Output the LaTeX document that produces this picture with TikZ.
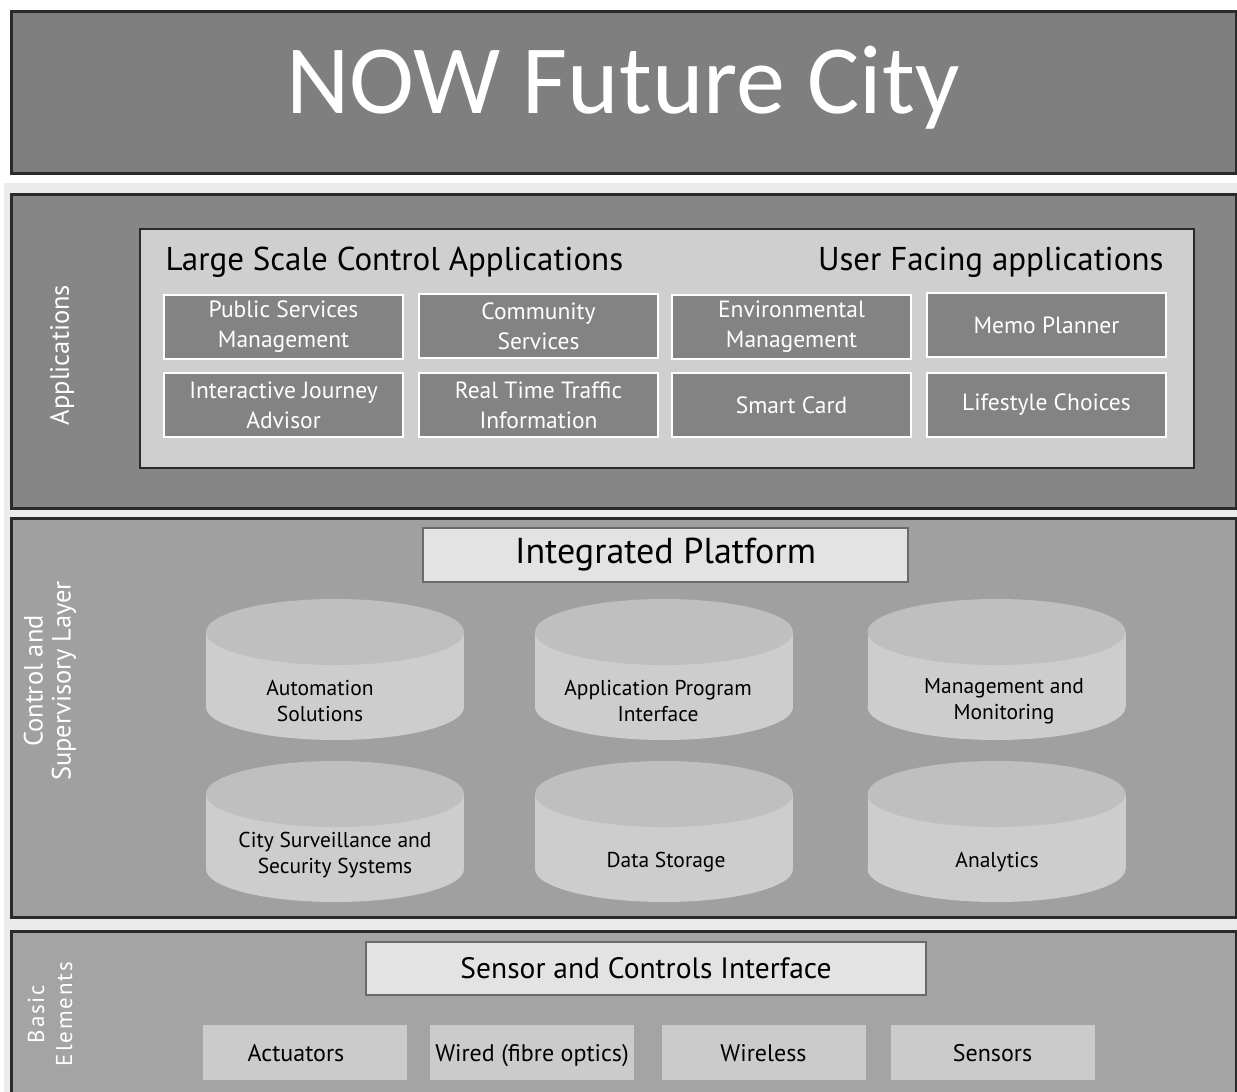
\documentclass[tikz,border=0pt]{standalone}
\usepackage{fontspec}
\setmainfont{PT Sans}
\newfontfamily\titlefont{Carlito}
\newfontfamily\spacedfont[LetterSpace=8]{PT Sans}
\definecolor{titlefill}{HTML}{7F7F7F}
\definecolor{appfill}{HTML}{868686}
\definecolor{innerfill}{HTML}{CFCFCF}
\definecolor{boxfill}{HTML}{838383}
\definecolor{ctrlfill}{HTML}{A0A0A0}
\definecolor{platfill}{HTML}{E3E3E3}
\definecolor{cylbody}{HTML}{CDCDCD}
\definecolor{cyltop}{HTML}{BFBFBF}
\definecolor{basicfill}{HTML}{A4A4A4}
\definecolor{elemfill}{HTML}{CBCBCB}
\definecolor{edge}{HTML}{2A2A2A}
\definecolor{stripfill}{HTML}{EBEBEB}
\tikzset{
  panel/.style={draw=edge, line width=2.5pt},
  appbox/.style={draw=white, line width=2.5pt, fill=boxfill, text=white, align=center,
    minimum width=239pt, minimum height=64pt, inner sep=0pt, font=\fontsize{23.5}{30}\selectfont},
  headbox/.style={draw=edge!70, line width=1.8pt, inner sep=0pt},
  elembox/.style={fill=elemfill, minimum width=204pt, minimum height=55pt, inner sep=0pt,
    text height=23pt, text depth=5pt, font=\fontsize{24}{28}\selectfont},
  cyltext/.style={align=center, font=\fontsize{21.5}{26}\selectfont, text=black},
  sidelabel/.style={rotate=90, text=white, align=center, font=\fontsize{26.5}{28}\selectfont},
}
\newcommand{\mycyl}[5]{% name, cx, topcy, botcy, text
  \fill[cylbody] (#2-129,#3) rectangle (#2+129,#4);
  \fill[cylbody] (#2,#4) ellipse [x radius=129, y radius=33];
  \fill[cyltop] (#2,#3) ellipse [x radius=129, y radius=33];
}
\begin{document}
\begin{tikzpicture}[x=1pt,y=-1pt]
\useasboundingbox (0,0) rectangle (1237,1092);
\fill[white] (0,0) rectangle (1237,1092);
\fill[stripfill] (4,183) rectangle (1237,1092);
% title
\node[panel, fill=titlefill, minimum width=1225pt, minimum height=162pt, inner sep=0pt,
  anchor=north west] (title) at (10,10) {};
\node[text=white, font=\titlefont\fontsize{98}{100}\selectfont] (titletext) at (623,88) {NOW Future City};
% applications panel
\node[panel, fill=appfill, minimum width=1225pt, minimum height=314pt, inner sep=0pt,
  anchor=north west] (apppanel) at (10,193) {};
\node[sidelabel] (applabel) at (62,355) {Applications};
\node[draw=edge, line width=2pt, fill=innerfill, minimum width=1054pt, minimum height=239pt,
  inner sep=0pt, anchor=north west] (inner) at (139,228) {};
\node[anchor=base west, font=\fontsize{33}{36}\selectfont] (lsca) at (162,270) {Large Scale Control Applications};
\node[anchor=base east, font=\fontsize{33}{36}\selectfont] (ufa) at (1167,270) {User Facing applications};
\node[appbox] (psm) at (283.5,327) {Public Services\\Management};
\node[appbox] (cs) at (538.5,326) {Community\\Services};
\node[appbox] (em) at (791.5,327) {Environmental\\Management};
\node[appbox] (mp) at (1046.5,325) {Memo Planner};
\node[appbox] (ija) at (283.5,405) {Interactive Journey\\Advisor};
\node[appbox] (rtti) at (538.5,405) {Real Time Traffic\\Information};
\node[appbox] (sc) at (791.5,405) {Smart Card};
\node[appbox] (lc) at (1046.5,405) {Lifestyle Choices};
% control panel
\node[panel, fill=ctrlfill, minimum width=1225pt, minimum height=399pt, inner sep=0pt,
  anchor=north west] (ctrlpanel) at (10,517) {};
\node[sidelabel] (ctrllabel) at (50,681) {Control and\\Supervisory Layer};
\node[headbox, fill=platfill, minimum width=485pt, minimum height=54pt,
  font=\fontsize{36}{40}\selectfont] (plat) at (665.5,555) {Integrated Platform};
\mycyl{a}{335}{632}{707}{}
\mycyl{b}{664}{632}{707}{}
\mycyl{c}{996.5}{632}{707}{}
\mycyl{d}{335}{794}{869}{}
\mycyl{e}{664}{794}{869}{}
\mycyl{f}{996.5}{794}{869}{}
\node[cyltext] (auto) at (320,701) {Automation\\Solutions};
\node[cyltext] (api) at (658,701) {Application Program\\Interface};
\node[cyltext] (mam) at (1004,701) {Management and\\Monitoring};
\node[cyltext] (csss) at (335,855) {City Surveillance and\\Security Systems};
\node[cyltext] (ds) at (666,862) {Data Storage};
\node[cyltext] (an) at (997,862) {Analytics};
% basic panel
\node[panel, fill=basicfill, minimum width=1225pt, minimum height=170pt, inner sep=0pt,
  anchor=north west] (basicpanel) at (10,930) {};
\node[sidelabel, font=\spacedfont\fontsize{23}{28}\selectfont] (basiclabel) at (50,1014) {Basic\\Elements};
\node[headbox, fill=platfill, minimum width=560pt, minimum height=53pt,
  font=\fontsize{29.5}{32}\selectfont] (sci) at (646,968.5) {Sensor and Controls Interface};
\node[elembox] (act) at (305,1052.5) {\hspace*{-18pt}Actuators};
\node[elembox] (wired) at (532,1052.5) {Wired (fibre optics)};
\node[elembox] (wl) at (763.5,1052.5) {Wireless};
\node[elembox] (sens) at (992.5,1052.5) {Sensors};
\end{tikzpicture}
\end{document}
